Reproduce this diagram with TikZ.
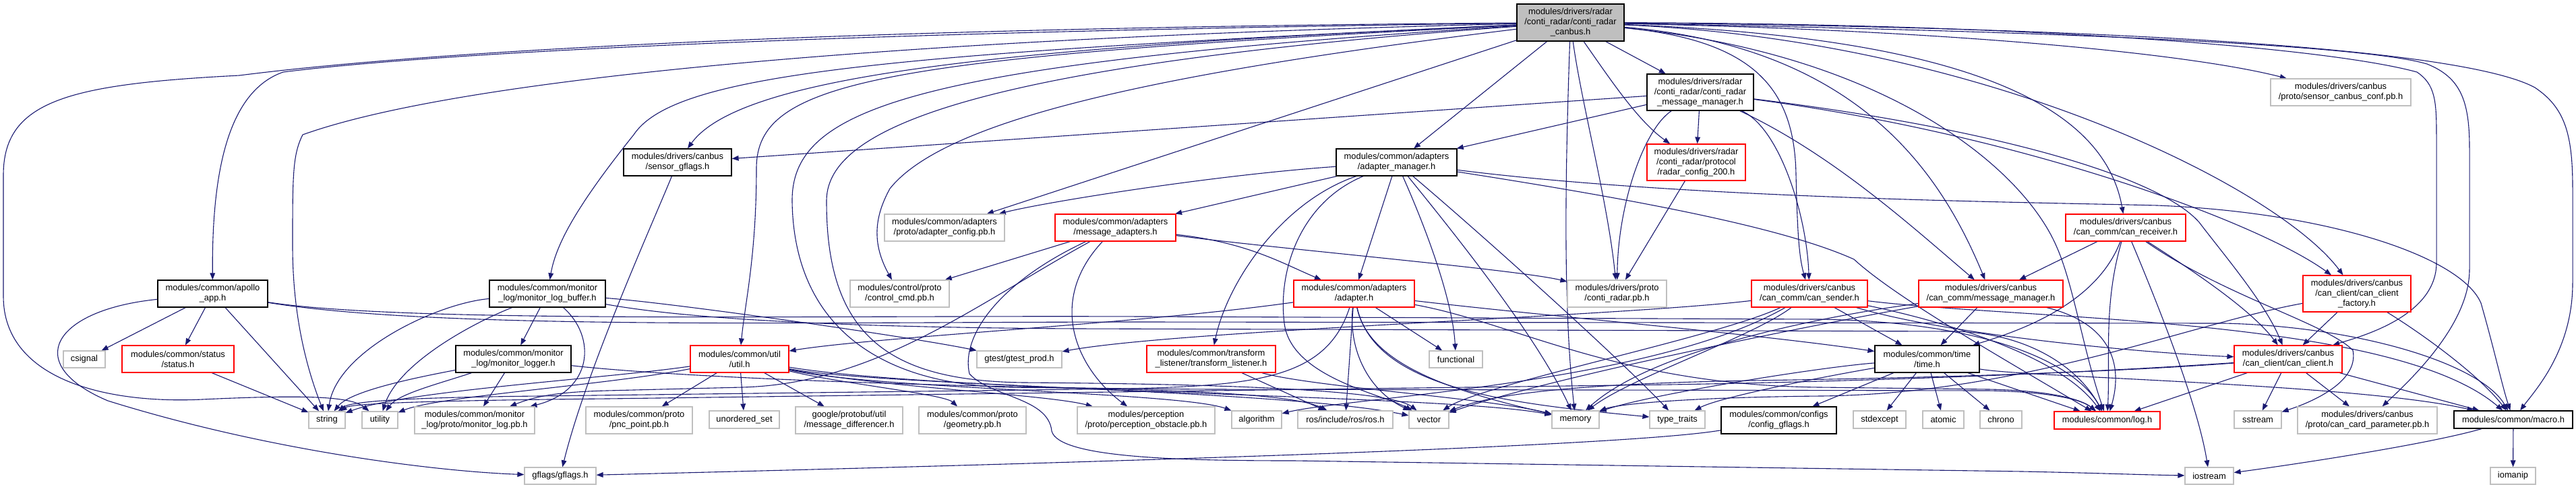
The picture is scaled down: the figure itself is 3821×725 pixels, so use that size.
\documentclass[tikz,border=0pt]{standalone}
\usepackage{fontspec}
\setmainfont{Liberation Sans}
\usetikzlibrary{arrows.meta}
\pgfdeclarelayer{bg}
\pgfsetlayers{bg,main}
\definecolor{edgec}{HTML}{191970}
\definecolor{cgray}{HTML}{BFBFBF}
\definecolor{cred}{HTML}{FF0000}
\tikzset{
  nbase/.style={draw, align=center, inner sep=0pt, fill=white, line width=0.6pt,
    font=\fontsize{6.45pt}{7.5pt}\selectfont},
  nblack/.style={nbase, draw=black},
  ngray/.style={nbase, draw=cgray},
  nred/.style={nbase, draw=cred},
  nroot/.style={nbase, draw=black, fill=cgray},
  e/.style={draw=edgec, line width=0.55pt, -{Triangle[length=5pt,width=3.8pt]}}
}
\newcommand{\nd}[6]{\node[#1,minimum width=#4pt,minimum height=#5pt] (#2) at (#3) {#6};}
\begin{document}
\begin{tikzpicture}[x=0.5pt,y=-0.5pt]
\useasboundingbox (0,0) rectangle (3821,725);
% nodes
\nd{nroot}{root}{2329.5,33.5}{79.5}{27.5}{modules/drivers/radar\\/conti\_radar/conti\_radar\\\_canbus.h}
\nd{nblack}{msgmgr}{2522,137}{79}{27}{modules/drivers/radar\\/conti\_radar/conti\_radar\\\_message\_manager.h}
\nd{nred}{radarcfg}{2516,241}{73}{27}{modules/drivers/radar\\/conti\_radar/protocol\\/radar\_config\_200.h}
\nd{nblack}{sgflags}{1005,241}{80}{20}{modules/drivers/canbus\\/sensor\_gflags.h}
\nd{nblack}{adm}{2071.5,241}{89.5}{20}{modules/common/adapters\\/adapter\_manager.h}
\nd{ngray}{adcfg}{1401,338}{89}{20}{modules/common/adapters\\/proto/adapter\_config.pb.h}
\nd{nred}{msgad}{1654.5,338}{89.5}{20}{modules/common/adapters\\/message\_adapters.h}
\nd{ngray}{scconf}{3472,137}{104}{20}{modules/drivers/canbus\\/proto/sensor\_canbus\_conf.pb.h}
\nd{nred}{canrecv}{3153,338}{89}{20}{modules/drivers/canbus\\/can\_comm/can\_receiver.h}
\nd{nblack}{apollo}{315.5,436}{81.5}{20}{modules/common/apollo\\\_app.h}
\nd{ngray}{csignal}{125,533.5}{31}{12.5}{csignal}
\nd{nred}{status}{264,533}{83}{20}{modules/common/status\\/status.h}
\nd{ngray}{string}{485,623.5}{27}{12.5}{string}
\nd{ngray}{utility}{563.5,623.5}{26.5}{12.5}{utility}
\nd{ngray}{mlpb}{704,624}{89}{20}{modules/common/monitor\\\_log/proto/monitor\_log.pb.h}
\nd{nblack}{mlb}{812,436}{86}{20}{modules/common/monitor\\\_log/monitor\_log\_buffer.h}
\nd{nblack}{mlog}{761.5,533}{85.5}{20}{modules/common/monitor\\\_log/monitor\_logger.h}
\nd{nred}{util}{1097,533}{73}{20}{modules/common/util\\/util.h}
\nd{ngray}{pnc}{948,624}{79}{20}{modules/common/proto\\/pnc\_point.pb.h}
\nd{ngray}{uset}{1104,623}{52}{13}{unordered\_set}
\nd{ngray}{msgdiff}{1259.5,624}{79.5}{20}{google/protobuf/util\\/message\_differencer.h}
\nd{ngray}{gflags}{831,706.5}{53}{12.5}{gflags/gflags.h}
\nd{ngray}{geom}{1442.5,624}{79.5}{20}{modules/common/proto\\/geometry.pb.h}
\nd{ngray}{perc}{1700,624}{102}{20}{modules/perception\\/proto/perception\_obstacle.pb.h}
\nd{ngray}{algo}{1864,623}{37}{13}{algorithm}
\nd{ngray}{ctrl}{1334.5,436}{73.5}{20}{modules/control/proto\\/control\_cmd.pb.h}
\nd{ngray}{gtest}{1512,533.5}{63}{12.5}{gtest/gtest\_prod.h}
\nd{nred}{tl}{1796.5,533}{95.5}{20}{modules/common/transform\\\_listener/transform\_listener.h}
\nd{nred}{adapter}{2008.5,436}{89.5}{20}{modules/common/adapters\\/adapter.h}
\nd{ngray}{crpb}{2398.5,436}{73.5}{20}{modules/drivers/proto\\/conti\_radar.pb.h}
\nd{ngray}{func}{2159.5,533.5}{39.5}{12.5}{functional}
\nd{ngray}{ros}{1995.5,623}{70.5}{13}{ros/include/ros/ros.h}
\nd{ngray}{vector}{2119.5,623}{29.5}{13}{vector}
\nd{ngray}{memory}{2337,623}{35}{13}{memory}
\nd{ngray}{ttraits}{2488,623}{41}{13}{type\_traits}
\nd{nblack}{cfgg}{2638.5,624}{85.5}{20}{modules/common/configs\\/config\_gflags.h}
\nd{nred}{sender}{2684,436}{86}{20}{modules/drivers/canbus\\/can\_comm/can\_sender.h}
\nd{nred}{mmgr}{2953,436}{107}{20}{modules/drivers/canbus\\/can\_comm/message\_manager.h}
\nd{nblack}{time}{2858.5,533}{77.5}{20}{modules/common/time\\/time.h}
\nd{ngray}{stdexc}{2788,623}{39}{13}{stdexcept}
\nd{ngray}{atomic}{2882.5,623}{30.5}{13}{atomic}
\nd{ngray}{chrono}{2968,623}{31}{13}{chrono}
\nd{nred}{log}{3125.5,624}{78.5}{13}{modules/common/log.h}
\nd{nred}{factory}{3496,436}{80}{27}{modules/drivers/canbus\\/can\_client/can\_client\\\_factory.h}
\nd{nred}{client}{3394,533}{80}{20}{modules/drivers/canbus\\/can\_client/can\_client.h}
\nd{ngray}{sstream}{3349,623}{35}{13}{sstream}
\nd{ngray}{ccp}{3511.5,624}{103.5}{20}{modules/drivers/canbus\\/proto/can\_card\_parameter.pb.h}
\nd{nblack}{macro}{3728,623}{88}{13}{modules/common/macro.h}
\nd{ngray}{iostream}{3277,706.5}{36}{12.5}{iostream}
\nd{ngray}{iomanip}{3727.5,706.5}{33.5}{12.5}{iomanip}
% edges
\begin{pgfonlayer}{bg}
% root
\draw[e] (root) .. controls (1400,45) and (700,72) .. (420,107) .. controls (340,135) and (314,250) .. (apollo);
\draw[e] (root) .. controls (1400,40) and (700,68) .. (355,112) .. controls (100,125) and (5,150) .. (5,260) -- (5,440) .. controls (5,560) and (150,600) .. (300,593) .. controls (450,586) and (520,588) .. (utility);
\draw[e] (root) .. controls (1400,55) and (700,110) .. (449,200) .. controls (434,230) and (434,260) .. (434,365) .. controls (434,480) and (460,560) .. (string);
\draw[e] (root) .. controls (1500,70) and (1100,110) .. (sgflags);
\draw[e] (root) .. controls (1300,80) and (1000,110) .. (940,200) .. controls (860,300) and (825,360) .. (mlb);
\draw[e] (root) .. controls (1300,85) and (1122,120) .. (1122,250) .. controls (1122,380) and (1105,450) .. (util);
\draw[e] (root) .. controls (1350,95) and (1173,160) .. (1175,300) .. controls (1178,480) and (1300,572) .. (1500,575) .. controls (1750,578) and (1920,585) .. (ros);
\draw[e] (root) .. controls (1400,100) and (1224,200) .. (1226,300) .. controls (1226,500) and (1320,566) .. (1520,568) .. controls (1800,570) and (2060,578) .. (vector);
\draw[e] (root) -- (adcfg);
\draw[e] (root) .. controls (1700,110) and (1400,180) .. (1320,280) .. controls (1298,320) and (1292,360) .. (ctrl);
\draw[e] (root) -- (adm);
\draw[e] (root) -- (msgmgr);
\draw[e] (root) .. controls (2390,120) and (2430,180) .. (radarcfg);
\draw[e] (root) .. controls (2345,150) and (2385,300) .. (crpb);
\draw[e] (root) .. controls (2322,250) and (2318,450) .. (memory);
\draw[e] (root) .. controls (2600,60) and (2662,130) .. (2664,260) .. controls (2666,340) and (2668,380) .. (sender);
\draw[e] (root) .. controls (2760,70) and (2880,260) .. (mmgr);
\draw[e] (root) .. controls (2900,55) and (3120,150) .. (canrecv);
\draw[e] (root) .. controls (2900,45) and (3250,80) .. (scconf);
\draw[e] (root) .. controls (3000,35) and (3450,70) .. (3585,107) .. controls (3612,125) and (3614,150) .. (3614,200) -- (3614,390) .. controls (3614,470) and (3500,500) .. (client);
\draw[e] (root) .. controls (3000,45) and (3500,65) .. (3600,95) .. controls (3650,115) and (3663,150) .. (3663,220) -- (3663,400) .. controls (3663,480) and (3580,560) .. (ccp);
\draw[e] (root) .. controls (3100,40) and (3650,70) .. (3760,130) .. controls (3805,160) and (3816,200) .. (3816,280) -- (3816,420) .. controls (3816,520) and (3760,580) .. (macro);
\draw[e] (root) .. controls (2950,60) and (3380,280) .. (factory);
\draw[e] (root) .. controls (2800,80) and (3000,250) .. (3050,365) .. controls (3075,420) and (3090,520) .. (log);
% msgmgr
\draw[e] (msgmgr) -- (adm);
\draw[e] (msgmgr) -- (sgflags);
\draw[e] (msgmgr) -- (radarcfg);
\draw[e] (msgmgr) .. controls (2440,190) and (2400,300) .. (crpb);
\draw[e] (msgmgr) .. controls (2640,190) and (2680,320) .. (sender);
\draw[e] (msgmgr) .. controls (2720,230) and (2840,340) .. (mmgr);
\draw[e] (msgmgr) .. controls (3000,200) and (3350,330) .. (factory);
\draw[e] (msgmgr) .. controls (2950,190) and (3200,260) .. (3262,330) .. controls (3300,380) and (3360,450) .. (client);
\draw[e] (radarcfg) -- (crpb);
\draw[e] (sgflags) .. controls (960,350) and (870,550) .. (gflags);
% apollo
\draw[e] (apollo) -- (csignal);
\draw[e] (apollo) -- (status);
\draw[e] (apollo) -- (string);
\draw[e] (apollo) .. controls (80,460) and (30,540) .. (160,595) .. controls (400,670) and (650,700) .. (gflags);
\draw[e] (apollo) .. controls (600,480) and (1200,468) .. (1700,470) -- (2700,474) .. controls (2950,478) and (3080,540) .. (log);
\draw[e] (apollo) .. controls (650,490) and (1200,478) .. (1700,478) -- (3300,480) .. controls (3500,485) and (3680,540) .. (macro);
\draw[e] (status) -- (string);
% monitor log buffer
\draw[e] (mlb) -- (mlog);
\draw[e] (mlb) .. controls (885,500) and (880,580) .. (mlpb);
\draw[e] (mlb) .. controls (650,450) and (500,520) .. (string);
\draw[e] (mlb) .. controls (700,480) and (590,540) .. (utility);
\draw[e] (mlb) .. controls (1000,450) and (1350,500) .. (gtest);
\draw[e] (mlb) .. controls (1000,470) and (1200,486) .. (1600,488) -- (2900,492) .. controls (3000,494) and (3080,540) .. (log);
% monitor logger
\draw[e] (mlog) -- (mlpb);
\draw[e] (mlog) .. controls (620,560) and (520,580) .. (string);
\draw[e] (mlog) .. controls (650,570) and (590,585) .. (utility);
\draw[e] (mlog) .. controls (1000,560) and (1400,576) .. (1800,578) -- (2950,580) .. controls (3050,582) and (3090,595) .. (log);
% util
\draw[e] (util) -- (pnc);
\draw[e] (util) -- (uset);
\draw[e] (util) -- (msgdiff);
\draw[e] (util) .. controls (900,562) and (600,580) .. (string);
\draw[e] (util) .. controls (900,572) and (650,588) .. (utility);
\draw[e] (util) .. controls (1250,570) and (1400,585) .. (geom);
\draw[e] (util) .. controls (1300,578) and (1750,582) .. (algo);
\draw[e] (util) .. controls (1300,573) and (1900,578) .. (vector);
\draw[e] (util) .. controls (1400,583) and (2150,586) .. (memory);
\draw[e] (util) .. controls (1300,575) and (1550,585) .. (perc);
% adapter manager
\draw[e] (adm) .. controls (1800,260) and (1550,300) .. (adcfg);
\draw[e] (adm) -- (msgad);
\draw[e] (adm) -- (adapter);
\draw[e] (adm) .. controls (1900,300) and (1820,420) .. (tl);
\draw[e] (adm) .. controls (2120,350) and (2155,450) .. (func);
\draw[e] (adm) .. controls (2160,350) and (2280,500) .. (memory);
\draw[e] (adm) .. controls (2200,350) and (2400,530) .. (ttraits);
\draw[e] (adm) .. controls (1930,300) and (1895,400) .. (1905,480) .. controls (1915,560) and (2050,585) .. (vector);
\draw[e] (adm) .. controls (2500,295) and (3000,300) .. (3200,305) .. controls (3450,315) and (3650,380) .. (3680,450) .. controls (3700,520) and (3712,575) .. (macro);
\draw[e] (adm) .. controls (2450,300) and (2650,340) .. (2750,385) .. controls (2810,440) and (2950,520) .. (log);
% message adapters
\draw[e] (msgad) .. controls (1850,360) and (1900,390) .. (adapter);
\draw[e] (msgad) -- (ctrl);
\draw[e] (msgad) .. controls (1900,370) and (2250,400) .. (crpb);
\draw[e] (msgad) .. controls (1550,450) and (1600,550) .. (perc);
\draw[e] (msgad) .. controls (1450,450) and (1300,570) .. (1100,575) -- (900,580) .. controls (820,582) and (790,590) .. (mlpb);
\draw[e] (msgad) .. controls (1480,420) and (1425,500) .. (1438,555) .. controls (1470,590) and (1555,590) .. (1560,640) .. controls (1570,680) and (1750,684) .. (1920,684) -- (3000,700) .. controls (3100,702) and (3180,705) .. (iostream);
% adapter
\draw[e] (adapter) .. controls (2300,470) and (2600,495) .. (time);
\draw[e] (adapter) -- (func);
\draw[e] (adapter) .. controls (2000,520) and (2030,580) .. (vector);
\draw[e] (adapter) .. controls (2030,540) and (2150,580) .. (memory);
\draw[e] (adapter) .. controls (2040,580) and (2250,600) .. (ttraits);
\draw[e] (adapter) -- (ros);
\draw[e] (adapter) .. controls (1965,570) and (1850,575) .. (1600,578) -- (800,588) .. controls (600,590) and (520,596) .. (string);
\draw[e] (adapter) .. controls (2250,480) and (2400,572) .. (2700,575) -- (2950,578) .. controls (3050,580) and (3090,595) .. (log);
\draw[e] (adapter) .. controls (1700,480) and (1300,500) .. (util);
% transform listener
\draw[e] (tl) -- (ros);
\draw[e] (tl) .. controls (1950,575) and (2200,590) .. (memory);
% can sender
\draw[e] (sender) -- (time);
\draw[e] (sender) .. controls (2850,470) and (3050,520) .. (log);
\draw[e] (sender) .. controls (3000,475) and (3550,470) .. (macro);
\draw[e] (sender) .. controls (2600,500) and (2420,560) .. (memory);
\draw[e] (sender) .. controls (2550,500) and (2200,570) .. (vector);
\draw[e] (sender) .. controls (2400,470) and (1750,490) .. (gtest);
\draw[e] (sender) .. controls (2450,570) and (2000,590) .. (algo);
\draw[e] (sender) .. controls (2900,500) and (3200,525) .. (client);
% message manager
\draw[e] (mmgr) -- (time);
\draw[e] (mmgr) .. controls (3130,480) and (3150,540) .. (log);
\draw[e] (mmgr) .. controls (2700,470) and (2450,520) .. (memory);
\draw[e] (mmgr) .. controls (2700,480) and (2300,560) .. (vector);
% can receiver
\draw[e] (canrecv) -- (mmgr);
\draw[e] (canrecv) .. controls (3110,450) and (3000,490) .. (time);
\draw[e] (canrecv) .. controls (3200,450) and (3260,600) .. (iostream);
\draw[e] (canrecv) .. controls (3300,440) and (3450,480) .. (3490,520) .. controls (3500,570) and (3420,600) .. (sstream);
\draw[e] (canrecv) .. controls (3120,450) and (3130,530) .. (log);
\draw[e] (canrecv) .. controls (3250,400) and (3340,460) .. (client);
% factory
\draw[e] (factory) -- (client);
\draw[e] (factory) .. controls (3600,500) and (3680,560) .. (macro);
\draw[e] (factory) .. controls (3250,480) and (3000,585) .. (2700,588) .. controls (2500,590) and (2400,600) .. (memory);
% can client
\draw[e] (client) -- (sstream);
\draw[e] (client) -- (ccp);
\draw[e] (client) -- (log);
\draw[e] (client) -- (macro);
\draw[e] (client) .. controls (3100,555) and (2800,562) .. (2600,565) .. controls (2300,570) and (2200,590) .. (vector);
\draw[e] (client) .. controls (3000,560) and (2600,570) .. (2400,572) -- (900,592) .. controls (600,595) and (520,600) .. (string);
% time
\draw[e] (time) -- (stdexc);
\draw[e] (time) -- (atomic);
\draw[e] (time) -- (chrono);
\draw[e] (time) -- (cfgg);
\draw[e] (time) -- (log);
\draw[e] (time) .. controls (3000,560) and (3500,570) .. (macro);
\draw[e] (time) .. controls (2700,545) and (2450,585) .. (memory);
\draw[e] (time) .. controls (2700,560) and (2550,590) .. (ttraits);
% others
\draw[e] (cfgg) .. controls (2400,665) and (1500,690) .. (gflags);
\draw[e] (macro) .. controls (3600,660) and (3400,690) .. (iostream);
\draw[e] (macro) -- (iomanip);
\end{pgfonlayer}
\end{tikzpicture}
\end{document}
